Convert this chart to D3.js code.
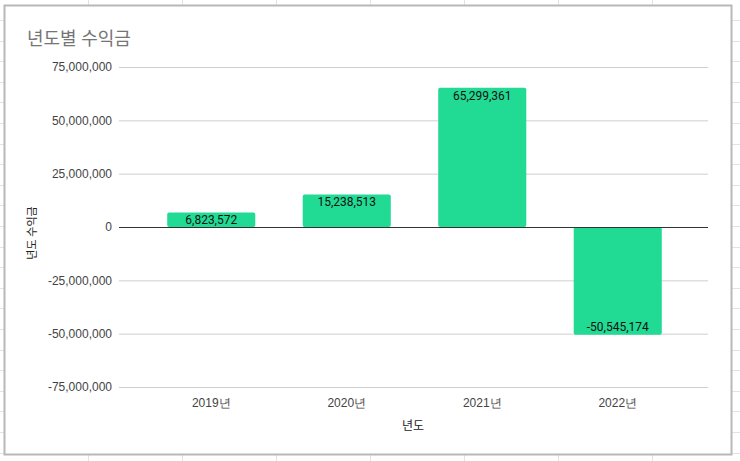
<!DOCTYPE html>
<html>
<head>
<meta charset="utf-8">
<script src="https://cdn.jsdelivr.net/npm/d3@7"></script>
<style>
  body { margin: 0; background: #fff; }
  svg { display: block; font-family: Roboto, 'Noto Sans CJK KR', sans-serif; }
</style>
</head>
<body>
<div id="chart"></div>
<script>
// data
const years = ['2019년', '2020년', '2021년', '2022년'];
const profits = [6823572, 15238513, 65299361, -50545174];
const yTicks = [-75000000, -50000000, -25000000, 0, 25000000, 50000000, 75000000];

const width = 740, height = 461;
const barColor = '#21db94';

// plain hyphen for negatives, like the sheet does
const fmt = d3.formatLocale({decimal: '.', thousands: ',', grouping: [3], currency: ['', ''], minus: '-'}).format(',');

const svg = d3.select('#chart').append('svg')
    .attr('width', width)
    .attr('height', height);

// spreadsheet grid behind the chart card
const bg = svg.append('g').attr('stroke', '#e3e3e3').attr('stroke-width', 1);
d3.range(88, width, 94).forEach(x => {
    bg.append('line').attr('x1', x + 0.5).attr('x2', x + 0.5).attr('y1', 0).attr('y2', height);
});
d3.range(20, height, 20.6).forEach(y => {
    bg.append('line').attr('x1', 0).attr('x2', width).attr('y1', Math.round(y) + 0.5).attr('y2', Math.round(y) + 0.5);
});

// chart card
svg.append('rect')
    .attr('x', 4.5).attr('y', 5.5)
    .attr('width', 727).attr('height', 449)
    .attr('fill', '#fff')
    .attr('stroke', '#b8b8b8')
    .attr('stroke-width', 2);

const plot = {left: 119, right: 708, top: 67, bottom: 387};

const x = d3.scaleBand()
    .domain(years)
    .range([143.5, 685.5])
    .paddingInner(0.35)
    .paddingOuter(0.175);

const y = d3.scaleLinear()
    .domain([-75000000, 75000000])
    .range([plot.bottom, plot.top]);

// title
svg.append('text')
    .attr('x', 27).attr('y', 45)
    .attr('font-size', 18)
    .attr('fill', '#757575')
    .text('년도별 수익금');

// gridlines + y labels
const yAxis = svg.append('g')
    .attr('transform', 'translate(' + plot.left + ',0)')
    .call(d3.axisLeft(y).tickValues(yTicks).tickSize(-(plot.right - plot.left)).tickPadding(7)
        .tickFormat(fmt));
yAxis.select('.domain').remove();
yAxis.selectAll('.tick line')
    .attr('stroke', d => d === 0 ? '#333' : '#cfcfcf');
yAxis.selectAll('.tick text')
    .attr('font-size', 12)
    .attr('fill', '#444');

// bars
svg.append('g').selectAll('rect')
    .data(years)
    .enter()
    .append('rect')
    .attr('x', d => x(d))
    .attr('width', x.bandwidth())
    .attr('y', (d, i) => y(Math.max(0, profits[i])))
    .attr('height', (d, i) => Math.abs(y(profits[i]) - y(0)))
    .attr('rx', 2)
    .attr('fill', barColor);

// redraw zero line on top
svg.append('line')
    .attr('x1', plot.left).attr('x2', plot.right)
    .attr('y1', Math.round(y(0)) + 0.5).attr('y2', Math.round(y(0)) + 0.5)
    .attr('stroke', '#333');

// value labels
svg.append('g').selectAll('text')
    .data(years)
    .enter()
    .append('text')
    .attr('x', d => x(d) + x.bandwidth() / 2)
    .attr('y', (d, i) => profits[i] >= 0 ? y(profits[i]) + 8 : y(profits[i]) - 8)
    .attr('dominant-baseline', 'central')
    .attr('text-anchor', 'middle')
    .attr('font-size', 12)
    .attr('fill', '#111')
    .text((d, i) => fmt(profits[i]));

// x labels
const xAxis = svg.append('g')
    .attr('transform', 'translate(0,' + plot.bottom + ')')
    .call(d3.axisBottom(x).tickSize(0).tickPadding(11));
xAxis.select('.domain').remove();
xAxis.selectAll('.tick text')
    .attr('font-size', 12)
    .attr('fill', '#444');

// axis titles
svg.append('text')
    .attr('x', 413).attr('y', 426)
    .attr('text-anchor', 'middle')
    .attr('dominant-baseline', 'central')
    .attr('font-size', 12)
    .attr('fill', '#222')
    .text('년도');

svg.append('text')
    .attr('transform', 'translate(32,233) rotate(-90)')
    .attr('text-anchor', 'middle')
    .attr('dominant-baseline', 'central')
    .attr('font-size', 11)
    .attr('fill', '#222')
    .text('년도 수익금');
</script>
</body>
</html>
